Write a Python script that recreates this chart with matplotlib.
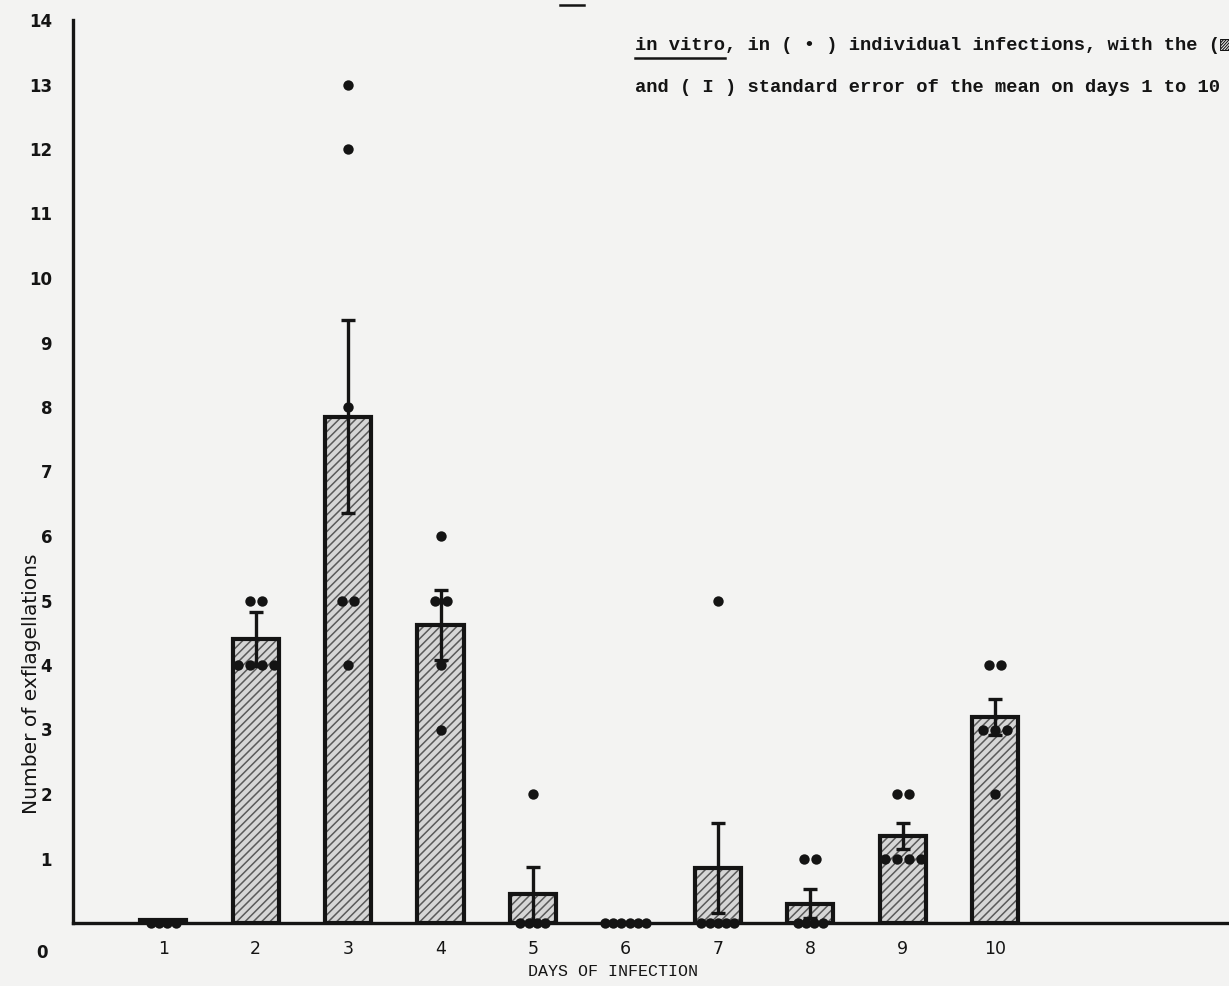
import numpy as np
import matplotlib
matplotlib.use("Agg")
import matplotlib.pyplot as plt
from matplotlib.lines import Line2D
from matplotlib.transforms import ScaledTranslation

# values
days = [1, 2, 3, 4, 5, 6, 7, 8, 9, 10]
mean_exfl = [0.05, 4.4, 7.85, 4.62, 0.45, 0.0, 0.85, 0.3, 1.35, 3.2]
sem_exfl = [0.0, 0.42, 1.5, 0.55, 0.42, 0.0, 0.7, 0.22, 0.2, 0.28]
individual = {
    1: [0, 0, 0, 0],
    2: [5, 5, 4, 4, 4, 4],
    3: [13, 12, 8, 5, 5, 4],
    4: [6, 5, 5, 4, 3],
    5: [2, 0, 0, 0, 0],
    6: [0, 0, 0, 0, 0, 0],
    7: [5, 0, 0, 0, 0, 0],
    8: [1, 1, 0, 0, 0, 0],
    9: [2, 2, 1, 1, 1, 1],
    10: [4, 4, 3, 3, 3, 2],
}
y_ticks = list(range(0, 15))

caption_2 = "in vitro, in ( \u2022 ) individual infections, with the (\u25a8"
caption_3 = "and ( I ) standard error of the mean on days 1 to 10"

W, H = 1229, 986
BG = '#f3f3f2'
INK = '#141414'
mono = ['Liberation Mono', 'DejaVu Sans Mono', 'DejaVu Sans']

plt.rcParams['hatch.linewidth'] = 1.1

fig = plt.figure(figsize=(W / 100, H / 100), dpi=100, facecolor=BG)
ax = fig.add_axes([73 / W, (H - 923) / H, 1 - 73 / W, (923 - 20) / H])
ax.set_facecolor(BG)
ax.set_xlim(0.024, 12.53)
ax.set_ylim(0, 14)

# bars: hatch layer first, then black outline on top
ax.bar(days, mean_exfl, width=0.5, color='#d6d6d6', edgecolor='#5a5a5a',
       hatch='////', linewidth=0, zorder=2)
ax.bar(days, mean_exfl, width=0.5, fill=False, edgecolor=INK,
       linewidth=3.0, zorder=3)

# standard error of the mean
d = np.array(days, dtype=float)
m = np.array(mean_exfl)
s = np.array(sem_exfl)
keep = s > 0
ax.errorbar(d[keep], m[keep], yerr=s[keep], fmt='none', ecolor=INK,
            elinewidth=2.4, capsize=5, capthick=2.4, zorder=4)

# individual infections, spread sideways when they share a value
for day, vals in individual.items():
    vals = np.array(vals)
    for v in np.unique(vals):
        k = int((vals == v).sum())
        step = 0.09 if v == 0 else 0.13
        xs = day + (np.arange(k) - (k - 1) / 2) * step
        ax.scatter(xs, [v] * k, s=56, color=INK, linewidths=0, zorder=5,
                   clip_on=False)

# axes styling
for side in ['top', 'right']:
    ax.spines[side].set_visible(False)
ax.spines['left'].set_linewidth(2.4)
ax.spines['bottom'].set_linewidth(2.4)
ax.spines['left'].set_color(INK)
ax.spines['bottom'].set_color(INK)
ax.set_xticks(days)
ax.set_xticklabels([str(x) for x in days], fontsize=12.5, family='DejaVu Sans',
                   color=INK)
ax.set_yticks(y_ticks)
ax.set_yticklabels([str(y) for y in y_ticks], fontsize=12, family='DejaVu Sans',
                   fontweight='bold', color=INK)
ax.tick_params(axis='x', length=0, pad=12)
ax.tick_params(axis='y', length=0, pad=15)
# the zero label sits well below the baseline in the original
zero_lbl = ax.get_yticklabels()[0]
zero_lbl.set_transform(zero_lbl.get_transform() +
                       ScaledTranslation(-0.04, -0.28, fig.dpi_scale_trans))

ax.set_xlabel('DAYS OF INFECTION', family=mono, fontsize=12, color=INK)
ax.xaxis.set_label_coords(0.467, -0.045)
ax.set_ylabel('Number of exflagellations', family='DejaVu Sans', fontsize=14.5,
              color=INK)
ax.yaxis.set_label_coords(-0.028, 0.265)

# caption lines at the top right, running up to the page edge
fig.text(635 / W, 1 - 45 / H, caption_2, ha='left', va='center',
         family=mono, fontsize=13.5, fontweight='bold', color=INK)
fig.text(635 / W, 1 - 87 / H, caption_3, ha='left', va='center',
         family=mono, fontsize=13.5, fontweight='bold', color=INK)

# underline "in vitro"
r = fig.canvas.get_renderer()
tmp = fig.text(635 / W, 1 - 45 / H, 'in vitro', ha='left', va='center',
               family=mono, fontsize=13.5, fontweight='bold')
w = tmp.get_window_extent(r).width
tmp.remove()
fig.add_artist(Line2D([635 / W, (635 + w) / W], [1 - 58 / H, 1 - 58 / H],
                      color=INK, linewidth=1.8))
# stub of the underlined figure number on the cut-off first line
fig.add_artist(Line2D([560 / W, 584 / W], [1 - 5 / H, 1 - 5 / H],
                      color=INK, linewidth=1.8))

fig.savefig('out.png', dpi=100, facecolor=BG)
